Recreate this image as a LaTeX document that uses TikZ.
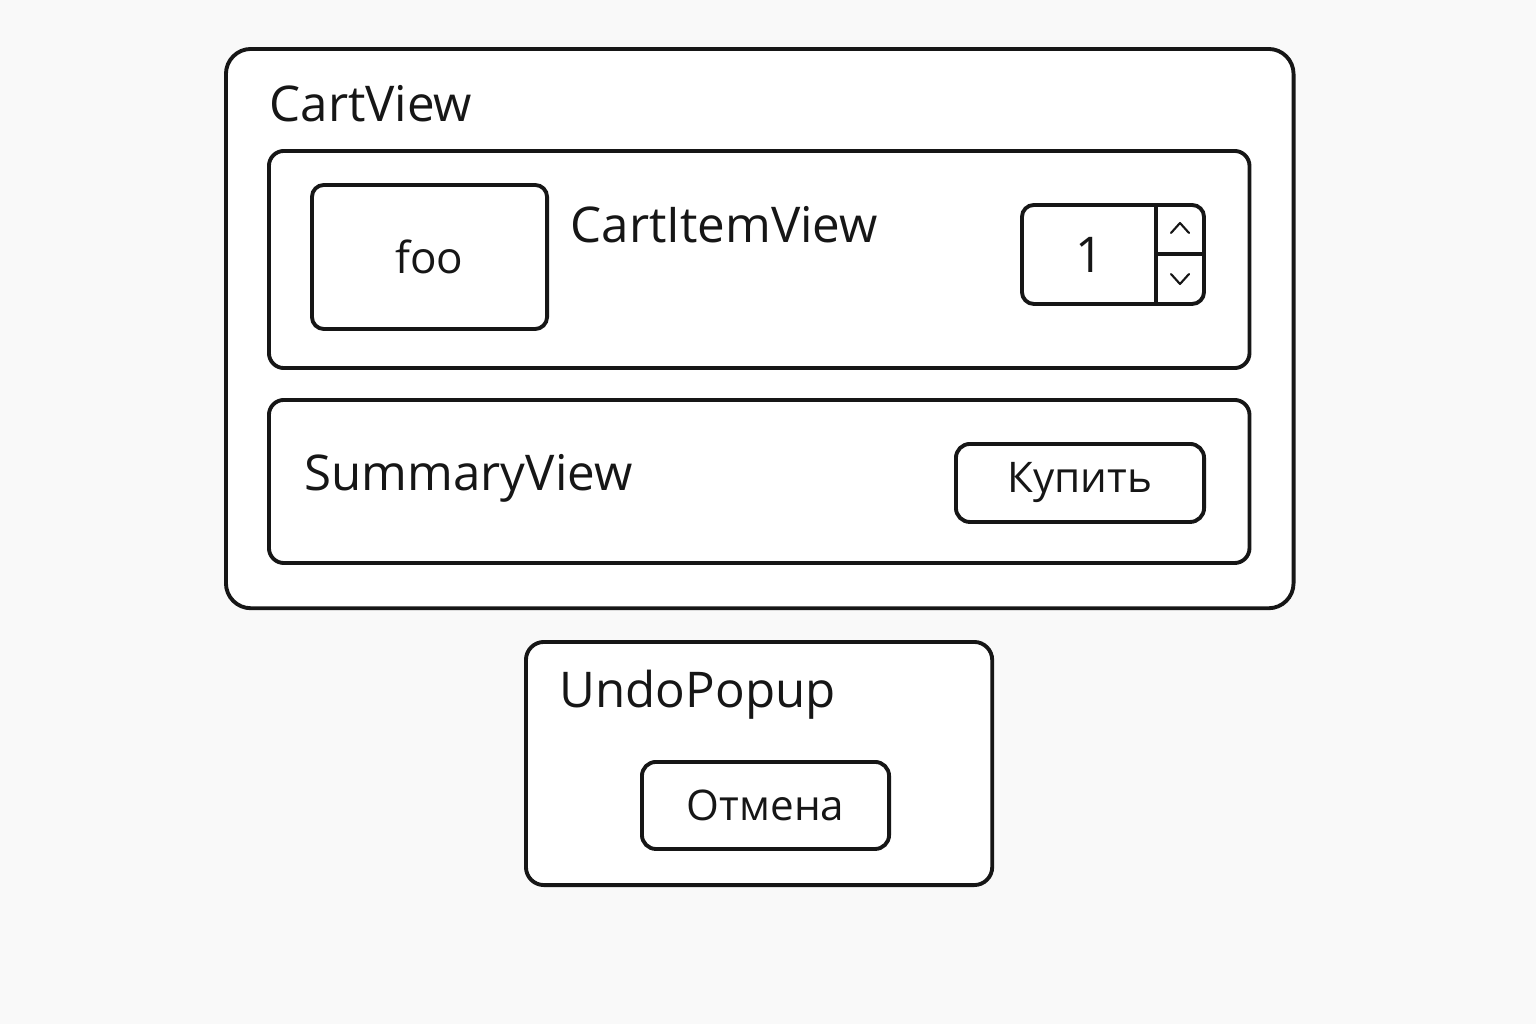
\documentclass[tikz,border=0pt]{standalone}
\usepackage{fontspec}
\setmainfont{Open Sans}
\usetikzlibrary{positioning}
\definecolor{paperbg}{RGB}{249,249,249}
\definecolor{uiline}{RGB}{22,22,22}
\tikzset{
    panel/.style={draw=uiline, fill=white, line width=1.1pt, anchor=north west, inner sep=0pt, rounded corners=0.15cm},
    outerpanel/.style={panel, rounded corners=0.25cm},
    widget/.style={panel, rounded corners=0.12cm},
    title/.style={anchor=base west, inner sep=0pt, text=uiline, font=\fontsize{14}{16}\selectfont},
    btntext/.style={inner sep=0pt, text=uiline, font=\fontsize{12}{14}\selectfont},
    chevron/.style={draw=uiline, line width=0.6pt, line cap=round, line join=round}
}

\begin{document}
\begin{tikzpicture}[x=0.01cm, y=-0.01cm]
    % page
    \fill[paperbg] (0,0) rectangle (1536,1024);

    % cart container
    \node[outerpanel, minimum width=10.67cm, minimum height=5.59cm] (cart) at (224,47) {};
    \node[title] (cartlabel) at (269,121) {CartView};

    % cart item row
    \node[panel, minimum width=9.80cm, minimum height=2.17cm] (item) at (267,149) {};
    \node[widget, minimum width=2.35cm, minimum height=1.44cm] (thumb) at (310,183) {};
    \node[btntext, font=\fontsize{12.5}{15}\selectfont] (thumblabel) at (thumb.center) {foo};
    \node[title] (itemlabel) at (570,242) {CartItemView};

    % quantity stepper
    \node[widget, minimum width=1.82cm, minimum height=0.99cm] (stepper) at (1020,203) {};
    \coordinate (splitx) at (1156,203);
    \coordinate (splity) at (1156,254);
    \draw[draw=uiline, line width=1.1pt] (splitx) -- (splitx |- stepper.south);
    \draw[draw=uiline, line width=1.1pt] (splity) -- (splity -| stepper.east);
    \node[title, anchor=center, font=\fontsize{14}{16}\selectfont] (qty) at (1090,255) {1};
    \coordinate (upc) at (1180,228);
    \coordinate (downc) at (1180,279);
    \draw[chevron] ([shift={(-9,5)}]upc) -- ([shift={(0,-5)}]upc) -- ([shift={(9,5)}]upc);
    \draw[chevron] ([shift={(-9,-5)}]downc) -- ([shift={(0,5)}]downc) -- ([shift={(9,-5)}]downc);

    % summary row
    \node[panel, minimum width=9.80cm, minimum height=1.63cm] (summary) at (267,398) {};
    \node[title] (summarylabel) at (304,490) {SummaryView};
    \node[widget, rounded corners=0.14cm, minimum width=2.48cm, minimum height=0.78cm] (buy) at (954,442) {};
    \node[btntext] (buylabel) at (buy.center) {Купить};

    % undo popup
    \node[widget, rounded corners=0.18cm, minimum width=4.66cm, minimum height=2.43cm] (undo) at (524,640) {};
    \node[title] (undolabel) at (559,707) {UndoPopup};
    \node[widget, rounded corners=0.14cm, minimum width=2.47cm, minimum height=0.87cm] (cancel) at (640,760) {};
    \node[btntext] (cancellabel) at (cancel.center) {Отмена};
\end{tikzpicture}
\end{document}
